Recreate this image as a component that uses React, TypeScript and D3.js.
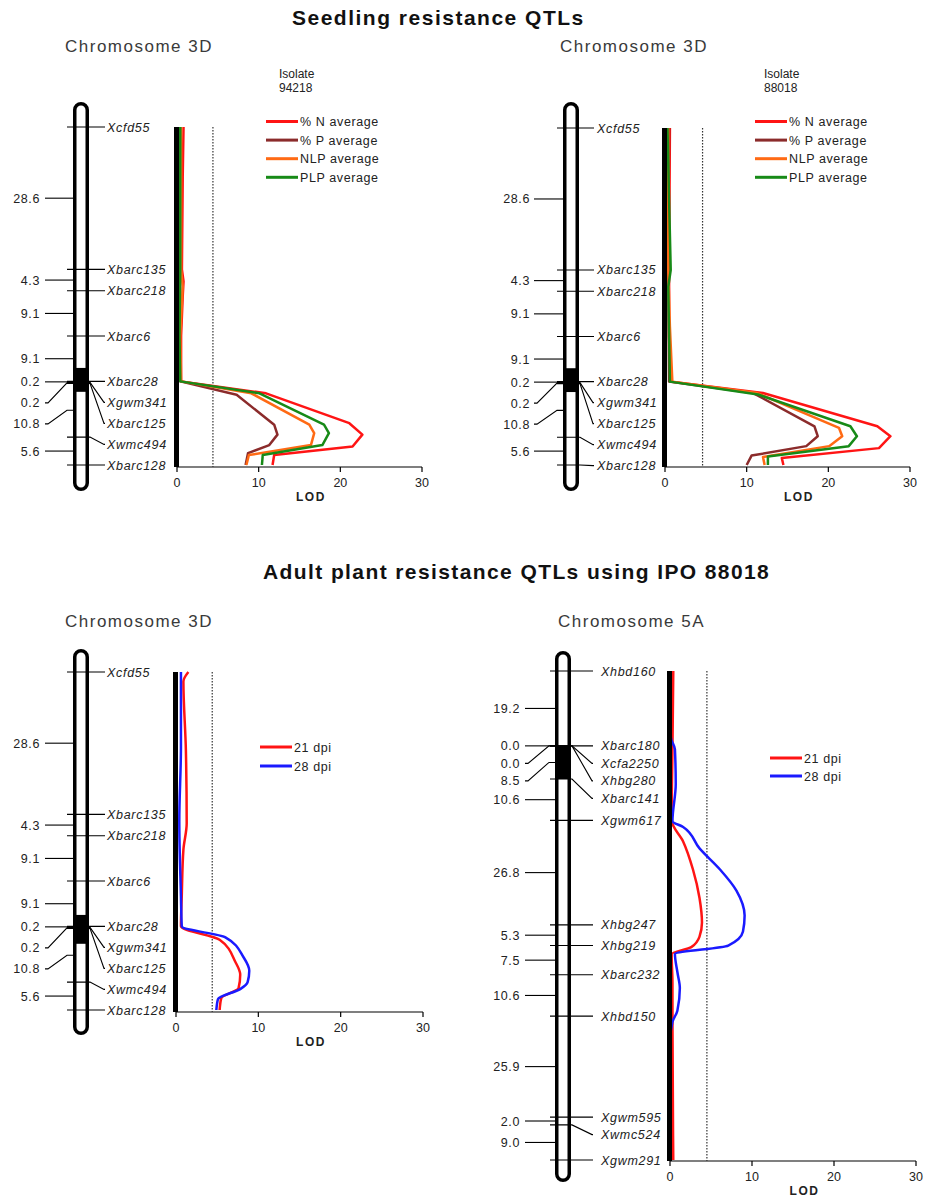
import { useEffect, useRef } from 'react';
import * as d3 from 'd3';

// Genetic maps: marker names and interval distances (cM)
const markers3D = ['Xcfd55', 'Xbarc135', 'Xbarc218', 'Xbarc6', 'Xbarc28', 'Xgwm341', 'Xbarc125', 'Xwmc494', 'Xbarc128'];
const intervals3D = [28.6, 4.3, 9.1, 9.1, 0.2, 0.2, 10.8, 5.6];

const markers5A = ['Xhbd160', 'Xbarc180', 'Xcfa2250', 'Xhbg280', 'Xbarc141', 'Xgwm617', 'Xhbg247', 'Xhbg219', 'Xbarc232', 'Xhbd150', 'Xgwm595', 'Xwmc524', 'Xgwm291'];
const intervals5A = [19.2, 0.0, 0.0, 8.5, 10.6, 26.8, 5.3, 7.5, 10.6, 25.9, 2.0, 9.0];

// black band on the chromosome, [from cM, to cM]
const band3DSeedling = [48.4, 53.2];
const band3DAdult = [48.8, 54.6];
const band5A = [19.2, 27.7];

const lodTicks = [0, 10, 20, 30];
const seedlingLegend = ['% N average', '% P average', 'NLP average', 'PLP average'];
const adultLegend = ['21 dpi', '28 dpi'];

// LOD profiles as [cM, LOD]
// seedling, isolate 94218
const nAvg94218: [number, number][] = [[0, 0.8], [10, 0.7], [28.6, 0.6], [31, 0.8], [34, 0.7], [42, 0.5], [51.1, 0.5], [53.5, 10.9], [59.5, 21.1], [61.8, 22.7], [64.2, 21.5], [65.9, 11.9], [67.9, 11.7]];
const pAvg94218: [number, number][] = [[0, 0.4], [28.6, 0.4], [42, 0.3], [51.1, 0.4], [53.8, 7.3], [59.8, 11.9], [61.8, 12.3], [63.9, 11.3], [65.5, 8.7], [67.9, 8.4]];
const nlpAvg94218: [number, number][] = [[0, 0.5], [28.6, 0.5], [32, 0.7], [42, 0.4], [51.1, 0.5], [53.5, 9.1], [59.8, 16.2], [61.5, 16.8], [63.9, 16.4], [65.9, 8.8], [67.9, 8.5]];
const plpAvg94218: [number, number][] = [[0, 0.4], [28.6, 0.4], [42, 0.3], [51.1, 0.4], [53.5, 10.1], [59.8, 18.0], [61.5, 18.6], [63.9, 17.8], [65.9, 10.5], [67.9, 10.4]];

// seedling, isolate 88018
const nAvg88018: [number, number][] = [[0, 0.6], [28.6, 0.5], [42, 0.5], [51.1, 0.7], [53.4, 12.0], [60.1, 26.0], [62.1, 27.6], [64.5, 26.2], [66.5, 14.3], [67.9, 14.5]];
const pAvg88018: [number, number][] = [[0, 0.5], [28.6, 0.4], [51.1, 0.5], [53.4, 10.8], [60.1, 18.3], [62.1, 18.7], [64.1, 17.3], [66.0, 10.6], [67.9, 10.0]];
const nlpAvg88018: [number, number][] = [[0, 0.4], [28.6, 0.4], [40, 0.6], [51.1, 0.9], [53.4, 11.3], [60.4, 21.3], [62.1, 21.7], [64.1, 20.1], [66.3, 12.0], [67.9, 12.2]];
const plpAvg88018: [number, number][] = [[0, 0.3], [28.6, 0.7], [32, 0.4], [51.1, 0.6], [53.7, 11.4], [60.1, 22.7], [62.1, 23.5], [64.1, 22.5], [66.2, 12.6], [67.9, 12.6]];

// adult plant, chromosome 3D
const dpi21Chr3D: [number, number][] = [[0, 1.5], [1.9, 0.9], [15.7, 1.2], [30.4, 1.3], [35.7, 0.9], [45, 0.7], [51.1, 0.6], [53.8, 5.3], [58.2, 7.2], [60.8, 7.8], [63.5, 7.6], [65.5, 5.5], [67.9, 5.3]];
const dpi28Chr3D: [number, number][] = [[0, 0.6], [15, 0.6], [30, 0.4], [45, 0.6], [51.1, 0.7], [53.3, 6.0], [57.3, 8.2], [60.0, 8.9], [62.3, 8.7], [63.7, 7.8], [65.7, 5.1], [67.9, 4.9]];

// adult plant, chromosome 5A
const dpi21Chr5A: [number, number][] = [[0, 0.4], [20, 0.3], [38.3, 0.2], [43.7, 1.6], [50.9, 2.8], [58.2, 3.6], [64.5, 3.9], [68.1, 3.6], [70.8, 2.6], [72.6, 0.2], [80, 0.3], [90, 0.3], [125.4, 0.4]];
const dpi28Chr5A: [number, number][] = [[0, 0.0], [17, 0.1], [20.1, 0.6], [29, 0.7], [38.5, 0.3], [40.0, 1.6], [45.5, 3.6], [50.9, 6.1], [56.3, 8.1], [62.7, 9.1], [66.8, 8.9], [70.4, 7.1], [72.6, 0.6], [77.2, 0.9], [81.3, 1.2], [87.1, 0.9], [90, 0.3], [95, 0.0], [125.4, 0.0]];

const seedlingColors = ['#ff1414', '#8b2b2b', '#ff6a14', '#178a17'];
const adultColors = ['#ff1414', '#1a1aff'];

const FONT = "'Liberation Sans', Arial, sans-serif";

const panels = [
  {
    markers: markers3D, intervals: intervals3D, band: band3DSeedling,
    series: [nAvg94218, pAvg94218, nlpAvg94218, plpAvg94218], legend: seedlingLegend, colors: seedlingColors,
    title: 'Chromosome 3D', isolate: ['Isolate', '94218'],
    chromLeft: 73, chromWidth: 16, chromTop: 102, chromBottom: 491, mapTop: 127, mapBottom: 465,
    cmRight: 40, cmLineStart: 45, tickLeft: 67, tickRight: 105, labelX: 107, gap: 21,
    lodLeft: 177, lodRight: 422, baseline: 467, threshold: 4.4,
    titleX: 65, titleY: 52, isoX: 279, isoY: 78,
    legendX: 266, legendY: 121.5, legendStep: 18.6, smooth: false,
  },
  {
    markers: markers3D, intervals: intervals3D, band: band3DSeedling,
    series: [nAvg88018, pAvg88018, nlpAvg88018, plpAvg88018], legend: seedlingLegend, colors: seedlingColors,
    title: 'Chromosome 3D', isolate: ['Isolate', '88018'],
    chromLeft: 563, chromWidth: 16, chromTop: 102, chromBottom: 491, mapTop: 128, mapBottom: 465,
    cmRight: 530, cmLineStart: 534, tickLeft: 557, tickRight: 594, labelX: 597, gap: 21,
    lodLeft: 665, lodRight: 910, baseline: 467, threshold: 4.6,
    titleX: 560, titleY: 52, isoX: 764, isoY: 78,
    legendX: 755, legendY: 121.5, legendStep: 18.6, smooth: false,
  },
  {
    markers: markers3D, intervals: intervals3D, band: band3DAdult,
    series: [dpi21Chr3D, dpi28Chr3D], legend: adultLegend, colors: adultColors,
    title: 'Chromosome 3D', isolate: null,
    chromLeft: 73, chromWidth: 16, chromTop: 649, chromBottom: 1035, mapTop: 672, mapBottom: 1010,
    cmRight: 40, cmLineStart: 45, tickLeft: 67, tickRight: 105, labelX: 107, gap: 21,
    lodLeft: 176, lodRight: 423, baseline: 1012, threshold: 4.4,
    titleX: 65, titleY: 627, isoX: 0, isoY: 0,
    legendX: 260, legendY: 747, legendStep: 19, smooth: true,
  },
  {
    markers: markers5A, intervals: intervals5A, band: band5A,
    series: [dpi21Chr5A, dpi28Chr5A], legend: adultLegend, colors: adultColors,
    title: 'Chromosome 5A', isolate: null,
    chromLeft: 555, chromWidth: 16, chromTop: 651, chromBottom: 1182, mapTop: 671, mapBottom: 1160,
    cmRight: 520, cmLineStart: 525, tickLeft: 550, tickRight: 593, labelX: 601, gap: 17.5,
    lodLeft: 670, lodRight: 916, baseline: 1161, threshold: 4.5,
    titleX: 558, titleY: 627, isoX: 0, isoY: 0,
    legendX: 770, legendY: 758, legendStep: 18, smooth: true,
  },
];

// push labels down so none is closer than gap to the one above
function spread(values: number[], gap: number) {
  const out: number[] = [];
  values.forEach((v, i) => out.push(i === 0 ? v : Math.max(v, out[i - 1] + gap)));
  return out;
}

function drawPanel(svg: d3.Selection<SVGSVGElement, unknown, null, undefined>, p: typeof panels[number]) {
  const g = svg.append('g').style('font-family', FONT);
  const pos = [0, ...Array.from(d3.cumsum(p.intervals))];
  const total = pos[pos.length - 1];

  const y = d3.scaleLinear().domain([0, total]).range([p.mapTop, p.mapBottom]);
  const x = d3.scaleLinear().domain([0, 30]).range([p.lodLeft, p.lodRight]);

  const sw = 3.5;
  const cl = p.chromLeft;
  const cr = p.chromLeft + p.chromWidth;

  // chromosome body
  g.append('rect')
    .attr('x', cl + sw / 2).attr('y', p.chromTop + sw / 2)
    .attr('width', p.chromWidth - sw).attr('height', p.chromBottom - p.chromTop - sw)
    .attr('rx', (p.chromWidth - sw) / 2)
    .attr('fill', '#fff');

  g.append('rect')
    .attr('x', cl + sw / 2).attr('width', p.chromWidth - sw)
    .attr('y', y(p.band[0])).attr('height', y(p.band[1]) - y(p.band[0]))
    .attr('fill', '#000');

  // interval distances on the left
  const mids = p.intervals.map((_, i) => y((pos[i] + pos[i + 1]) / 2));
  const cmY = spread(mids, p.gap);
  p.intervals.forEach((d, i) => {
    const my = mids[i], ly = cmY[i];
    const path = Math.abs(ly - my) < 0.5
      ? `M${p.cmLineStart},${my}H${cl}`
      : `M${p.cmLineStart},${ly}H${p.cmLineStart + 3}L${cl - 6},${my}H${cl}`;
    g.append('path').attr('d', path).attr('fill', 'none').attr('stroke', '#000').attr('stroke-width', 1.1);
    g.append('text')
      .attr('x', p.cmRight).attr('y', ly).attr('dy', '0.36em')
      .attr('text-anchor', 'end')
      .style('font-size', '12.5px').style('letter-spacing', '0.6px').attr('fill', '#222')
      .text(d.toFixed(1));
  });

  // markers on the right
  const my = pos.map(d => y(d));
  const labelY = spread(my, p.gap);
  p.markers.forEach((m, i) => {
    const ay = my[i], ly = labelY[i];
    const path = Math.abs(ly - ay) < 0.5
      ? `M${p.tickLeft},${ay}H${p.tickRight}`
      : `M${p.tickLeft},${ay}H${cr + 1}L${p.tickRight - 1},${ly}H${p.tickRight}`;
    g.append('path').attr('d', path).attr('fill', 'none').attr('stroke', '#000').attr('stroke-width', 1.1);
    g.append('text')
      .attr('x', p.labelX).attr('y', ly).attr('dy', '0.36em')
      .style('font-size', '12.5px').style('font-style', 'italic').style('letter-spacing', '0.7px')
      .attr('fill', '#222')
      .text(m);
  });

  // chromosome outline
  g.append('rect')
    .attr('x', cl + sw / 2).attr('y', p.chromTop + sw / 2)
    .attr('width', p.chromWidth - sw).attr('height', p.chromBottom - p.chromTop - sw)
    .attr('rx', (p.chromWidth - sw) / 2)
    .attr('fill', 'none').attr('stroke', '#000').attr('stroke-width', sw);

  // LOD axis
  g.append('line')
    .attr('x1', x(0)).attr('x2', x(30)).attr('y1', p.baseline).attr('y2', p.baseline)
    .attr('stroke', '#000').attr('stroke-width', 1.2);
  lodTicks.forEach(t => {
    g.append('line')
      .attr('x1', x(t)).attr('x2', x(t)).attr('y1', p.baseline).attr('y2', p.baseline + 5)
      .attr('stroke', '#000').attr('stroke-width', 1.2);
    g.append('text')
      .attr('x', x(t)).attr('y', p.baseline + 20)
      .attr('text-anchor', 'middle')
      .style('font-size', '12.5px').attr('fill', '#222')
      .text(t);
  });
  g.append('text')
    .attr('x', x(16.4)).attr('y', p.baseline + 34)
    .attr('text-anchor', 'middle')
    .style('font-size', '12px').style('font-weight', 'bold').style('letter-spacing', '1.5px').attr('fill', '#222')
    .text('LOD');

  // significance threshold
  g.append('line')
    .attr('x1', x(p.threshold)).attr('x2', x(p.threshold))
    .attr('y1', y(0)).attr('y2', p.baseline)
    .attr('stroke', '#333').attr('stroke-width', 1.2).attr('stroke-dasharray', '1.5,1.5');

  // LOD profiles
  const line = d3.line<[number, number]>()
    .x(d => x(d[1]))
    .y(d => y(d[0]))
    .curve(p.smooth ? d3.curveMonotoneY : d3.curveLinear);

  p.series.forEach((s, i) => {
    g.append('path')
      .datum(s)
      .attr('d', line)
      .attr('fill', 'none')
      .attr('stroke', p.colors[i])
      .attr('stroke-width', 2.5)
      .attr('stroke-linejoin', 'round');
  });

  // thick vertical axis
  g.append('line')
    .attr('x1', x(0) - 0.5).attr('x2', x(0) - 0.5).attr('y1', y(0)).attr('y2', p.baseline)
    .attr('stroke', '#000').attr('stroke-width', 5);

  // legend
  p.legend.forEach((label, i) => {
    const ly = p.legendY + i * p.legendStep;
    g.append('line')
      .attr('x1', p.legendX).attr('x2', p.legendX + 32).attr('y1', ly).attr('y2', ly)
      .attr('stroke', p.colors[i]).attr('stroke-width', 3);
    g.append('text')
      .attr('x', p.legendX + 34).attr('y', ly).attr('dy', '0.36em')
      .style('font-size', '12.5px').style('letter-spacing', '0.6px').attr('fill', '#222')
      .text(label);
  });

  // titles
  g.append('text')
    .attr('x', p.titleX).attr('y', p.titleY)
    .style('font-size', '17px').style('letter-spacing', '1.5px').attr('fill', '#3a3a3a')
    .text(p.title);

  if (p.isolate) {
    p.isolate.forEach((t, i) => {
      g.append('text')
        .attr('x', p.isoX).attr('y', p.isoY + i * 14)
        .style('font-size', '12px').attr('fill', '#222')
        .text(t);
    });
  }
}

export default function App() {
  const svgRef = useRef<SVGSVGElement>(null);

  useEffect(() => {
    if (!svgRef.current) return;
    const svg = d3.select(svgRef.current);
    svg.selectAll('*').remove();

    svg.append('rect').attr('width', 931).attr('height', 1198).attr('fill', '#fff');

    svg.append('text')
      .attr('x', 292).attr('y', 25)
      .style('font-family', FONT).style('font-size', '21px').style('font-weight', 'bold')
      .style('letter-spacing', '1.5px').attr('fill', '#111')
      .text('Seedling resistance QTLs');

    svg.append('text')
      .attr('x', 263).attr('y', 579)
      .style('font-family', FONT).style('font-size', '21px').style('font-weight', 'bold')
      .style('letter-spacing', '1.4px').attr('fill', '#111')
      .text('Adult plant resistance QTLs using IPO 88018');

    panels.forEach(p => drawPanel(svg, p));
  }, []);

  return (
    <svg
      ref={svgRef}
      width={931}
      height={1198}
      viewBox="0 0 931 1198"
      style={{ position: 'absolute', left: 0, top: 0 }}
    />
  );
}
